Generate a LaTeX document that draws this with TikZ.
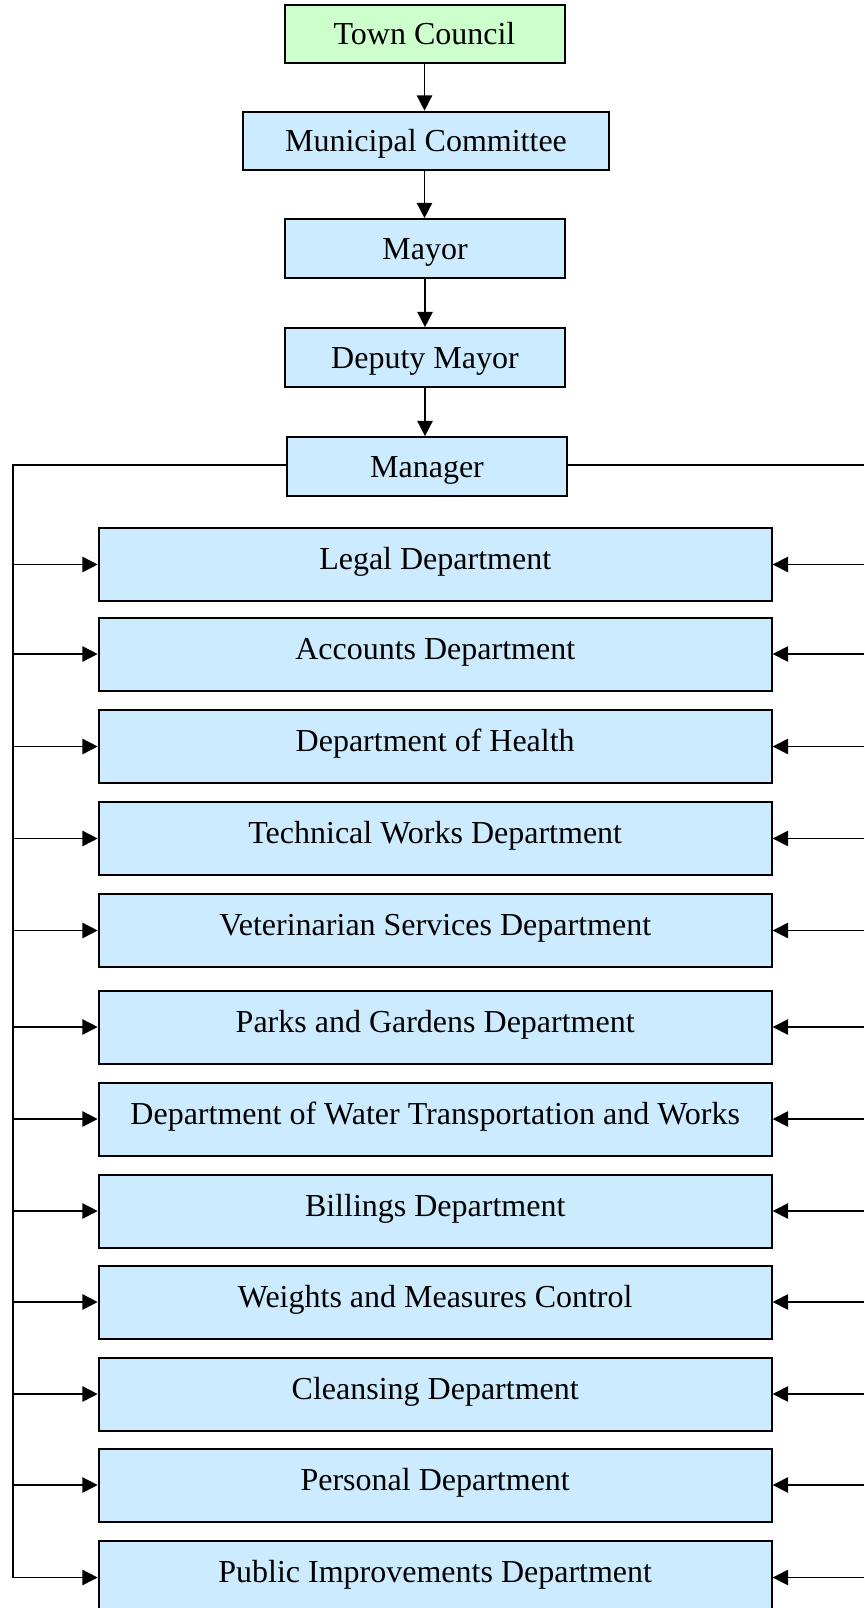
\documentclass[tikz,border=0pt]{standalone}
\usepackage{fontspec}
\setmainfont{Liberation Serif}
\usetikzlibrary{arrows.meta}
\definecolor{boxblue}{HTML}{CCEBFF}
\definecolor{boxgreen}{HTML}{CCFFCC}
\begin{document}
\begin{tikzpicture}[x=0.75pt,y=-0.75pt,
  box/.style={draw=black, line width=1.5pt, fill=boxblue, font=\fontsize{24pt}{28pt}\selectfont,
    inner sep=0pt, minimum width=210pt, minimum height=44pt,
    text height=16pt, text depth=0pt},
  dept/.style={box, minimum width=504.75pt, minimum height=54.75pt,
    text height=12pt, text depth=4.2pt},
  link/.style={line width=1.2pt, -{Triangle[length=11.5pt,width=11.5pt]}},
  bus/.style={line width=1.2pt}]
\useasboundingbox (0,0) rectangle (864,1608);

% chain of command
\node[box, fill=boxgreen] (council) at (424.5,34) {Town Council};
\node[box, minimum width=274.5pt] (committee) at (426,141) {Municipal Committee};
\node[box] (mayor) at (425,248.5) {Mayor};
\node[box] (deputy) at (425,357.5) {Deputy Mayor};
\node[box] (manager) at (427,466.5) {Manager};

\draw[link] (council.south) -- (council.south |- committee.north);
\draw[link] (committee.south -| council.south) -- (council.south |- mayor.north);
\draw[link] (mayor.south) -- (deputy.north);
\draw[link] (deputy.south) -- (deputy.south |- manager.north);

% departments
\foreach \name/\y/\txt in {
  d1/564.5/Legal Department,
  d2/654/Accounts Department,
  d3/746.5/Department of Health,
  d4/838.5/Technical Works Department,
  d5/930.5/Veterinarian Services Department,
  d6/1027/Parks and Gardens Department,
  d7/1119/Department of Water Transportation and Works,
  d8/1211/Billings Department,
  d9/1302/Weights and Measures Control,
  d10/1394/Cleansing Department,
  d11/1485/Personal Department,
  d12/1577.5/Public Improvements Department}{
  \node[dept] (\name) at (435.2,\y) {\txt};
  \coordinate (L\name) at (12.7,\y);
  \coordinate (R\name) at (864,\y);
  \draw[link] (L\name) -- (\name.west);
  \draw[link] (R\name) -- (\name.east);
}

% distribution lines from the manager
\coordinate (busL) at (12.7,465);
\coordinate (busR) at (864,465);
\draw[bus] (manager.west |- busL) -- (busL) -- (Ld12);
\draw[bus] (manager.east |- busR) -- (busR);
\end{tikzpicture}
\end{document}
